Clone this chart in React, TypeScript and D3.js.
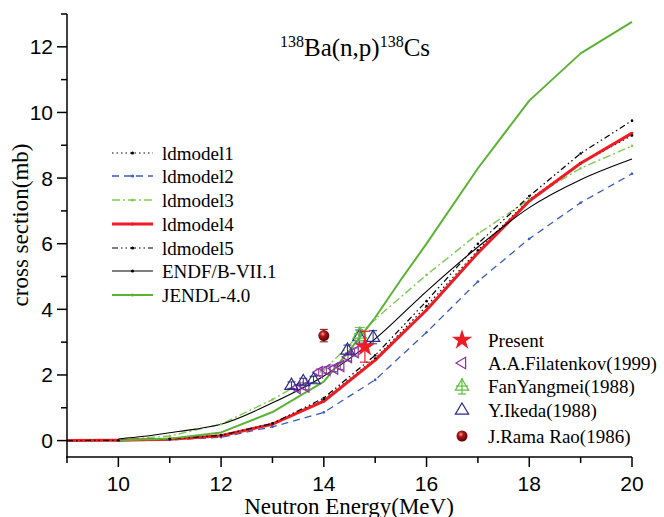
import React from 'react';
import * as d3 from 'd3';

// ---- data ----
const energies = [9, 10, 11, 12, 13, 14, 15, 16, 17, 18, 19, 20];
const ldmodel1 = [0, 0.01, 0.05, 0.17, 0.52, 1.25, 2.5, 4.1, 5.8, 7.35, 8.45, 9.3];
const ldmodel2 = [0, 0, 0.02, 0.1, 0.42, 0.86, 1.85, 3.3, 4.85, 6.15, 7.25, 8.13];
const ldmodel3 = [0, 0.02, 0.14, 0.5, 1.25, 2.15, 3.7, 5.05, 6.3, 7.35, 8.3, 8.98];
const ldmodel4 = [0, 0.01, 0.04, 0.15, 0.5, 1.2, 2.45, 3.98, 5.72, 7.3, 8.45, 9.37];
const ldmodel5 = [0, 0.01, 0.05, 0.16, 0.52, 1.3, 2.6, 4.25, 6.0, 7.45, 8.75, 9.75];
const endfE = [10, 10.5, 11, 11.5, 12, 13, 14, 15, 16, 17, 18, 19, 20];
const endf = [0.05, 0.13, 0.24, 0.35, 0.5, 1.15, 1.97, 3.1, 4.55, 5.9, 7.1, 7.95, 8.58];
const jendlE = [10, 11, 12, 13, 14, 14.5, 15, 15.5, 16, 17, 18, 19, 20];
const jendl = [0, 0.06, 0.25, 0.87, 1.8, 2.75, 3.75, 4.9, 6.0, 8.3, 10.36, 11.8, 12.76];

const presentE = [14.8];
const presentY = [2.86];
const presentErr = [0.47];
const filatenkovE = [13.47, 13.64, 13.9, 14.05, 14.2, 14.32, 14.47, 14.6];
const filatenkovY = [1.6, 1.65, 2.08, 2.15, 2.2, 2.27, 2.55, 2.7];
const filatenkovErr = [0.1, 0.1, 0.1, 0.1, 0.1, 0.1, 0.12, 0.12];
const fanE = [14.7];
const fanY = [3.25];
const fanErr = [0.2];
const ikedaE = [13.37, 13.6, 13.8, 14.46, 14.69, 14.96];
const ikedaY = [1.69, 1.8, 1.86, 2.76, 3.17, 3.15];
const ikedaErr = [0.1, 0.1, 0.1, 0.15, 0.2, 0.2];
const raoE = [14.0];
const raoY = [3.2];
const raoErr = [0.19];

const xTicks = [10, 12, 14, 16, 18, 20];
const xMinor = [9, 11, 13, 15, 17, 19];
const yTicks = [0, 2, 4, 6, 8, 10, 12];
const yMinor = [1, 3, 5, 7, 9, 11, 13];

const lineSeries = [
  { name: 'ldmodel1', x: energies, y: ldmodel1, color: '#000000', width: 1.2, dash: '1.5,3', curve: 'linear', marker: true },
  { name: 'ldmodel2', x: energies, y: ldmodel2, color: '#3a5bc0', width: 1.3, dash: '7,5', curve: 'linear', marker: true },
  { name: 'ldmodel3', x: energies, y: ldmodel3, color: '#7fcc55', width: 1.4, dash: '8,3,2,3', curve: 'linear', marker: true },
  { name: 'ldmodel4', x: energies, y: ldmodel4, color: '#ee1c24', width: 3, dash: null, curve: 'linear', marker: true },
  { name: 'ldmodel5', x: energies, y: ldmodel5, color: '#000000', width: 1.2, dash: '6,3,1.5,3,1.5,3', curve: 'linear', marker: true },
  { name: 'ENDF/B-VII.1', x: endfE, y: endf, color: '#000000', width: 1.1, dash: null, curve: 'smooth', marker: false },
  { name: 'JENDL-4.0', x: jendlE, y: jendl, color: '#5bb335', width: 2, dash: null, curve: 'linear', marker: false },
];

const W = 664, H = 517;
const x = d3.scaleLinear().domain([9, 20]).range([67, 632]);
const y = d3.scaleLinear().domain([-0.5, 13]).range([457, 14]);

const serif = '"Liberation Serif", "Times New Roman", serif';
const sans = '"Liberation Sans", Arial, sans-serif';

function triPath(cx: number, cy: number, r: number, dir: 'up' | 'left') {
  if (dir === 'up') {
    return `M${cx},${cy - r}L${cx + r * 0.95},${cy + r * 0.6}L${cx - r * 0.95},${cy + r * 0.6}Z`;
  }
  return `M${cx - r},${cy}L${cx + r * 0.6},${cy - r * 0.95}L${cx + r * 0.6},${cy + r * 0.95}Z`;
}

const star = d3.symbol().type(d3.symbolStar).size(130)() as string;

function ErrBar({ cx, y0, y1, color, cap = 5, w = 1 }: any) {
  return (
    <g stroke={color} strokeWidth={w}>
      <line x1={cx} x2={cx} y1={y0} y2={y1} />
      <line x1={cx - cap} x2={cx + cap} y1={y0} y2={y0} />
      <line x1={cx - cap} x2={cx + cap} y1={y1} y2={y1} />
    </g>
  );
}

export default function App() {
  const lineGen = (s: any) => {
    const g = d3.line<number>()
      .x((_, i) => x(s.x[i]))
      .y((d) => y(d))
      .curve(s.curve === 'smooth' ? d3.curveMonotoneX : d3.curveLinear);
    return g(s.y) as string;
  };

  const legend1Y = [153, 176, 200, 224, 248, 271, 295];
  const legend2Y = [340, 363, 386, 410, 436];

  return (
    <svg width={W} height={H} style={{ position: 'absolute', left: 0, top: 0, background: '#fff' }}>
      <defs>
        <radialGradient id="ball" cx="40%" cy="35%" r="65%">
          <stop offset="0%" stopColor="#f4a0a0" />
          <stop offset="35%" stopColor="#b01818" />
          <stop offset="100%" stopColor="#5a0000" />
        </radialGradient>
        <clipPath id="plot">
          <rect x={67} y={0} width={600} height={457} />
        </clipPath>
      </defs>
      <rect x={0} y={0} width={W} height={H} fill="#fff" />

      {/* curves */}
      <g clipPath="url(#plot)" fill="none">
        {lineSeries.map((s) => (
          <path key={s.name} d={lineGen(s)} stroke={s.color} strokeWidth={s.width}
            strokeDasharray={s.dash || undefined} strokeLinejoin="round" />
        ))}
        {lineSeries.filter((s) => s.marker).map((s) => (
          <g key={s.name + 'm'} fill={s.color}>
            {s.y.map((v: number, i: number) => (
              <circle key={i} cx={x(s.x[i])} cy={y(v)} r={1.3} />
            ))}
          </g>
        ))}
      </g>

      {/* experimental data */}
      <g>
        {filatenkovE.map((e, i) => (
          <g key={'f' + i}>
            <ErrBar cx={x(e)} y0={y(filatenkovY[i] + filatenkovErr[i])} y1={y(filatenkovY[i] - filatenkovErr[i])} color="#8b2fa0" cap={3} />
            <path d={triPath(x(e), y(filatenkovY[i]), 6, 'left')} fill="none" stroke="#8b2fa0" strokeWidth={1.2} />
          </g>
        ))}
        {ikedaE.map((e, i) => (
          <g key={'k' + i}>
            <ErrBar cx={x(e)} y0={y(ikedaY[i] + ikedaErr[i])} y1={y(ikedaY[i] - ikedaErr[i])} color="#2b2b8a" cap={4} />
            <path d={triPath(x(e), y(ikedaY[i]), 7, 'up')} fill="none" stroke="#2b2b8a" strokeWidth={1.2} />
          </g>
        ))}
        {fanE.map((e, i) => (
          <g key={'fy' + i}>
            <ErrBar cx={x(e)} y0={y(fanY[i] + fanErr[i])} y1={y(fanY[i] - fanErr[i])} color="#5bc03a" cap={5} />
            <line x1={x(e) - 6} x2={x(e) + 6} y1={y(fanY[i])} y2={y(fanY[i])} stroke="#5bc03a" />
            <path d={triPath(x(e), y(fanY[i]), 7, 'up')} fill="none" stroke="#5bc03a" strokeWidth={1.3} />
          </g>
        ))}
        {raoE.map((e, i) => (
          <g key={'r' + i}>
            <ErrBar cx={x(e)} y0={y(raoY[i] + raoErr[i])} y1={y(raoY[i] - raoErr[i])} color="#7a0a0a" cap={4} />
            <circle cx={x(e)} cy={y(raoY[i])} r={5.5} fill="url(#ball)" />
          </g>
        ))}
        {presentE.map((e, i) => (
          <g key={'p' + i}>
            <ErrBar cx={x(e)} y0={y(presentY[i] + presentErr[i])} y1={y(presentY[i] - presentErr[i])} color="#ee1c24" cap={5} w={1.2} />
            <path d={star} transform={`translate(${x(e)},${y(presentY[i])})`} fill="#ee1c24" />
          </g>
        ))}
      </g>

      {/* axes */}
      <g stroke="#000" strokeWidth={1.5}>
        <line x1={67} x2={67} y1={14} y2={457.75} />
        <line x1={66.25} x2={632} y1={457} y2={457} />
        {xTicks.map((t) => <line key={'xt' + t} x1={x(t)} x2={x(t)} y1={457} y2={467} />)}
        {xMinor.map((t) => <line key={'xm' + t} x1={x(t)} x2={x(t)} y1={457} y2={463} />)}
        {yTicks.map((t) => <line key={'yt' + t} x1={57} x2={67} y1={y(t)} y2={y(t)} />)}
        {yMinor.map((t) => <line key={'ym' + t} x1={61} x2={67} y1={y(t)} y2={y(t)} />)}
      </g>
      <g fontFamily={sans} fontSize={21} fill="#000">
        {xTicks.map((t) => (
          <text key={'xl' + t} x={x(t)} y={491} textAnchor="middle">{t}</text>
        ))}
        {yTicks.map((t) => (
          <text key={'yl' + t} x={53} y={y(t) + 7.5} textAnchor="end">{t}</text>
        ))}
      </g>
      <text x={349} y={514} textAnchor="middle" fontFamily={serif} fontSize={23}>Neutron Energy(MeV)</text>
      <text transform="translate(28,225) rotate(-90)" textAnchor="middle" fontFamily={serif} fontSize={23}>cross section(mb)</text>

      {/* title */}
      <text x={280} y={56} fontFamily={serif} fontSize={25}>
        <tspan fontSize={16} dy={-9}>138</tspan>
        <tspan dy={9}>Ba(n,p)</tspan>
        <tspan fontSize={16} dy={-9}>138</tspan>
        <tspan dy={9}>Cs</tspan>
      </text>

      {/* legend 1 */}
      <g>
        {lineSeries.map((s, i) => (
          <g key={'lg' + s.name}>
            <line x1={112} x2={153} y1={legend1Y[i]} y2={legend1Y[i]} stroke={s.color}
              strokeWidth={s.width} strokeDasharray={s.dash || undefined} />
            <circle cx={132.5} cy={legend1Y[i]} r={1.6} fill={s.color} />
            <text x={162} y={legend1Y[i] + 6.5} fontFamily={serif} fontSize={19}>{s.name}</text>
          </g>
        ))}
      </g>

      {/* legend 2 */}
      <g fontFamily={serif} fontSize={19}>
        <path d={star} transform={`translate(462,${legend2Y[0]})`} fill="#ee1c24" />
        <text x={488} y={legend2Y[0] + 6.5}>Present</text>
        <path d={triPath(462, legend2Y[1], 6, 'left')} fill="none" stroke="#8b2fa0" strokeWidth={1.2} />
        <text x={488} y={legend2Y[1] + 6.5}>A.A.Filatenkov(1999)</text>
        <g stroke="#5bc03a" strokeWidth={1.2} fill="none">
          <path d={triPath(462, legend2Y[2], 7, 'up')} />
          <line x1={462} x2={462} y1={legend2Y[2] - 8} y2={legend2Y[2] + 8} />
          <line x1={456} x2={468} y1={legend2Y[2]} y2={legend2Y[2]} />
          <line x1={458} x2={466} y1={legend2Y[2] + 8} y2={legend2Y[2] + 8} />
        </g>
        <text x={488} y={legend2Y[2] + 6.5}>FanYangmei(1988)</text>
        <path d={triPath(462, legend2Y[3], 7, 'up')} fill="none" stroke="#2b2b8a" strokeWidth={1.2} />
        <text x={488} y={legend2Y[3] + 6.5}>Y.Ikeda(1988)</text>
        <circle cx={462} cy={legend2Y[4]} r={5.5} fill="url(#ball)" />
        <text x={488} y={legend2Y[4] + 6.5}>J.Rama Rao(1986)</text>
      </g>
    </svg>
  );
}
